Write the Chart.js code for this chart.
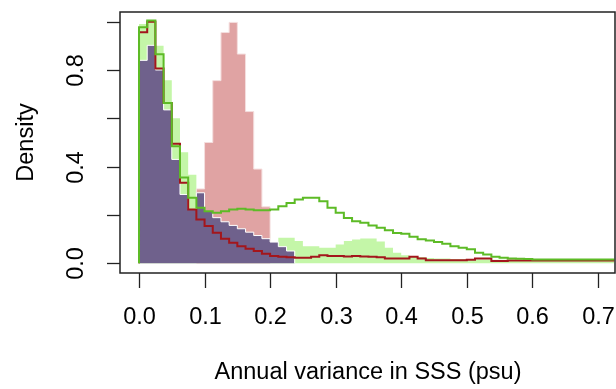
<html lang="en">
<head>
    <meta charset="UTF-8">
    <title>SSS variance histograms</title>
    <script src="https://cdn.jsdelivr.net/npm/chart.js@4.4.1/dist/chart.umd.min.js"></script>
    <style>
        body { margin: 0; background: #fff; }
        canvas { display: block; }
    </style>
</head>
<body>
    <canvas id="graph" width="616" height="389"></canvas>

    <script>
        // histogram bins are 0.0125 wide, starting at 0
        const binWidth = 0.0125;

        // light green filled histogram
        const greenFill = [0.99, 1.00, 0.90, 0.758, 0.60, 0.46, 0.367, 0.30, 0.26, 0.23,
            0.21, 0.19, 0.17, 0.155, 0.14, 0.125, 0.085, 0.106, 0.106, 0.092,
            0.071, 0.071, 0.065, 0.065, 0.078, 0.092, 0.099, 0.103, 0.103, 0.090,
            0.065, 0.044, 0.033, 0.030, 0.026, 0.022, 0.020, 0.020, 0.018, 0.018,
            0.017, 0.016, 0.016, 0.015, 0.015, 0.015, 0.015, 0.015, 0.015, 0.015,
            0.015, 0.015, 0.015, 0.015, 0.015, 0.015, 0.015, 0.015];

        // pink filled histogram, first bin is bin 7 (0.0875)
        const pinkStart = 7;
        const pinkFill = [0.308, 0.50, 0.756, 0.955, 0.997, 0.866, 0.628, 0.39, 0.234];

        // purple filled histogram
        const purpleFill = [0.84, 0.902, 0.80, 0.635, 0.43, 0.285, 0.223, 0.292, 0.215, 0.189,
            0.172, 0.157, 0.143, 0.129, 0.115, 0.102, 0.088, 0.069, 0.051];

        // dark red outline histogram
        const redLine = [0.956, 1.00, 0.806, 0.663, 0.495, 0.333, 0.223, 0.181, 0.154, 0.127,
            0.102, 0.085, 0.071, 0.060, 0.051, 0.040, 0.030, 0.027, 0.025, 0.023,
            0.023, 0.027, 0.033, 0.030, 0.030, 0.028, 0.030, 0.028, 0.027, 0.025,
            0.020, 0.020, 0.020, 0.027, 0.020, 0.013, 0.013, 0.013, 0.013, 0.013,
            0.015, 0.020, 0.020, 0.010, 0.010, 0.012, 0.012, 0.012, 0.012, 0.012,
            0.012, 0.012, 0.012, 0.012, 0.012, 0.012, 0.012, 0.012];

        // green outline histogram
        const greenLine = [0.977, 1.005, 0.865, 0.663, 0.485, 0.355, 0.271, 0.23, 0.216, 0.209,
            0.216, 0.223, 0.226, 0.223, 0.22, 0.22, 0.223, 0.236, 0.25, 0.264,
            0.271, 0.271, 0.257, 0.23, 0.209, 0.188, 0.174, 0.168, 0.157, 0.147,
            0.137, 0.126, 0.122, 0.11, 0.10, 0.095, 0.088, 0.081, 0.071, 0.065,
            0.058, 0.044, 0.037, 0.027, 0.023, 0.020, 0.019, 0.018, 0.016, 0.016,
            0.016, 0.016, 0.016, 0.016, 0.016, 0.016, 0.016, 0.016];

        const xTicks = [0, 0.1, 0.2, 0.3, 0.4, 0.5, 0.6, 0.7];
        const yTicks = [0, 0.2, 0.4, 0.6, 0.8, 1.0];
        const yLabelled = [0, 0.4, 0.8];

        const font = '23.5px "Liberation Sans", Arial, sans-serif';

        function stepPoints(vals, start) {
            const pts = [{x: start * binWidth, y: 0}];
            vals.forEach((v, i) => pts.push({x: (start + i) * binWidth, y: v}));
            const end = (start + vals.length) * binWidth;
            pts.push({x: end, y: vals[vals.length - 1]});
            pts.push({x: end, y: 0});
            return pts;
        }

        function outlinePoints(vals) {
            const pts = [{x: 0, y: 0}];
            vals.forEach((v, i) => pts.push({x: i * binWidth, y: v}));
            pts.push({x: vals.length * binWidth, y: vals[vals.length - 1]});
            return pts;
        }

        const axesPlugin = {
            id: 'rAxes',
            beforeDraw(chart) {
                const c = chart.ctx;
                c.save();
                c.fillStyle = '#fff';
                c.fillRect(0, 0, chart.width, chart.height);
                c.restore();
            },
            afterDraw(chart) {
                const c = chart.ctx;
                const a = chart.chartArea;
                const xs = chart.scales.x, ys = chart.scales.y;
                c.save();
                c.strokeStyle = '#222';
                c.lineWidth = 1.5;
                c.strokeRect(a.left, a.top, a.right - a.left, a.bottom - a.top);

                c.fillStyle = '#000';
                c.font = font;
                c.lineWidth = 1.3;
                // x ticks
                c.textAlign = 'center';
                c.textBaseline = 'middle';
                xTicks.forEach(t => {
                    const px = Math.round(xs.getPixelForValue(t)) + 0.5;
                    c.beginPath();
                    c.moveTo(px, a.bottom);
                    c.lineTo(px, a.bottom + 15);
                    c.stroke();
                    c.fillText(t.toFixed(1), px, 318);
                });
                c.fillText('Annual variance in SSS (psu)', 368, 373);

                // y ticks
                yTicks.forEach(t => {
                    const py = Math.round(ys.getPixelForValue(t)) + 0.5;
                    c.beginPath();
                    c.moveTo(a.left, py);
                    c.lineTo(a.left - 13, py);
                    c.stroke();
                    if (yLabelled.includes(t)) {
                        c.save();
                        c.translate(77, py);
                        c.rotate(-Math.PI / 2);
                        c.fillText(t.toFixed(1), 0, 0);
                        c.restore();
                    }
                });
                c.save();
                c.translate(27, (a.top + a.bottom) / 2);
                c.rotate(-Math.PI / 2);
                c.fillText('Density', 0, 0);
                c.restore();
                c.restore();
            }
        };

        const ctx = document.getElementById('graph').getContext('2d');
        const myChart = new Chart(ctx, {
            type: 'line',
            data: {
                datasets: [
                    {
                        label: 'green outline',
                        data: outlinePoints(greenLine),
                        borderColor: '#5dbb26',
                        borderWidth: 2,
                        fill: false,
                        order: 1
                    },
                    {
                        label: 'red outline',
                        data: outlinePoints(redLine),
                        borderColor: '#a3161c',
                        borderWidth: 2,
                        fill: false,
                        order: 2
                    },
                    {
                        label: 'purple',
                        data: stepPoints(purpleFill, 0),
                        borderColor: '#ffffff',
                        borderWidth: 1,
                        backgroundColor: '#6f618c',
                        fill: 'origin',
                        order: 3
                    },
                    {
                        label: 'pink',
                        data: stepPoints(pinkFill, pinkStart),
                        borderColor: '#f4dede',
                        borderWidth: 1,
                        backgroundColor: '#e0a3a3',
                        fill: 'origin',
                        order: 4
                    },
                    {
                        label: 'light green',
                        data: stepPoints(greenFill, 0),
                        borderColor: 'rgba(0,0,0,0)',
                        borderWidth: 0,
                        backgroundColor: '#c4f6a8',
                        fill: 'origin',
                        order: 5
                    }
                ]
            },
            options: {
                responsive: false,
                animation: false,
                devicePixelRatio: 1,
                layout: { padding: { left: 120, top: 12, right: 1, bottom: 116 } },
                elements: {
                    line: { stepped: true, tension: 0 },
                    point: { radius: 0, hoverRadius: 0 }
                },
                plugins: {
                    legend: { display: false },
                    tooltip: { enabled: false }
                },
                scales: {
                    x: { type: 'linear', min: -0.029, max: 0.7261, display: false },
                    y: { type: 'linear', min: -0.04, max: 1.04, display: false }
                }
            },
            plugins: [axesPlugin]
        });
    </script>
</body>
</html>
